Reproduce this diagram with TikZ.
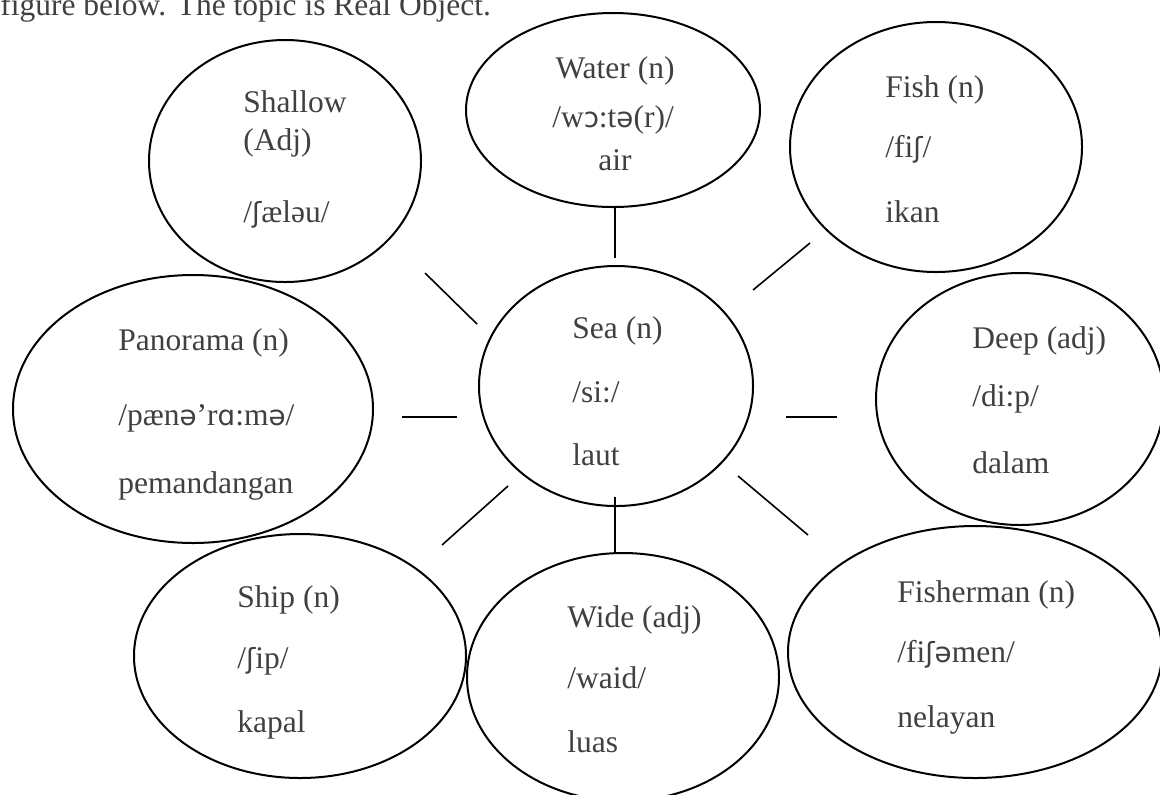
\documentclass[tikz,border=0pt]{standalone}
\usepackage{fontspec}
\setmainfont{Liberation Serif}
\newfontfamily\ipafont{DejaVu Sans}[Scale=0.88]
\usepackage{tikz}
\usetikzlibrary{shapes.geometric}
\usepackage{xcolor}
\definecolor{InkBlack}{RGB}{0, 0, 0}
\definecolor{InkGray}{RGB}{64, 64, 64}
\colorlet{BubbleStroke}{InkBlack}
\colorlet{LinkStroke}{InkBlack}
\colorlet{WordText}{InkGray}
\newcommand{\wordfont}{\fontsize{15.75pt}{18pt}\selectfont}
\newcommand{\ipa}[1]{{\ipafont #1}}
\tikzset{
    % Word bubble (the ellipses)
    bubble/.style={
        draw=BubbleStroke,
        ellipse,
        line width=1pt,
        inner sep=0pt
    },
    % One text line inside a bubble
    wordline/.style={
        anchor=base west,
        text=WordText,
        font=\wordfont,
        inner sep=0pt
    },
    % Centred text line
    wordmid/.style={
        wordline,
        anchor=base
    },
    % Short stroke between bubbles
    link/.style={
        draw=LinkStroke,
        line width=0.8pt
    }
}

\begin{document}
\begin{tikzpicture}[x=0.5pt, y=-0.5pt]

    \useasboundingbox (0,0) rectangle (1160,794);

    % Caption line (cut at the top)
    \node[wordline] (caption) at (0,15) {figure below. The topic is Real Object.};

    % ==========================================
    % BUBBLES
    % ==========================================
    \foreach \n/\x/\y/\w/\h in {
        shallow/285/161/136/121,
        water/613/110/147/97,
        fish/936/147/146/125,
        panorama/193/409/180/134,
        sea/616/386/137/120,
        deep/1020/399/144/126,
        ship/300/656/166/122,
        wide/623/677/156/124,
        fisherman/975/652/187/126} {
        \node[bubble, minimum width=\w pt, minimum height=\h pt] (\n) at (\x,\y) {};
    }

    % ==========================================
    % WORDS
    % ==========================================

    % Sea (centre)
    \node[wordline] (seaA) at (572,338) {Sea (n)};
    \node[wordline] (seaB) at (572,402) {/si:/};
    \node[wordline] (seaC) at (572,465) {laut};

    % Shallow
    \node[wordline] (shallowA) at (243,112) {Shallow};
    \node[wordline] (shallowB) at (243,150) {(Adj)};
    \node[wordline] (shallowC) at (243,222) {/\ipa{ʃ}æləu/};

    % Water
    \node[wordmid] (waterA) at (615,78) {Water (n)};
    \node[wordmid] (waterB) at (613,127) {/w\ipa{ɔ}:t\ipa{ə}(r)/};
    \node[wordmid] (waterC) at (615,170) {air};

    % Fish
    \node[wordline] (fishA) at (885,97) {Fish (n)};
    \node[wordline] (fishB) at (885,157) {/fi\ipa{ʃ}/};
    \node[wordline] (fishC) at (885,222) {ikan};

    % Panorama
    \node[wordline] (panoramaA) at (118,350) {Panorama (n)};
    \node[wordline] (panoramaB) at (118,425) {/pæn\ipa{ə}’r\ipa{ɑ}:m\ipa{ə}/};
    \node[wordline] (panoramaC) at (118,493) {pemandangan};

    % Deep
    \node[wordline] (deepA) at (972,348) {Deep (adj)};
    \node[wordline] (deepB) at (972,406) {/di:p/};
    \node[wordline] (deepC) at (972,473) {dalam};

    % Ship
    \node[wordline] (shipA) at (237,607) {Ship (n)};
    \node[wordline] (shipB) at (237,668) {/\ipa{ʃ}ip/};
    \node[wordline] (shipC) at (237,732) {kapal};

    % Wide
    \node[wordline] (wideA) at (567,627) {Wide (adj)};
    \node[wordline] (wideB) at (567,688) {/waid/};
    \node[wordline] (wideC) at (567,752) {luas};

    % Fisherman
    \node[wordline] (fishermanA) at (897,602) {Fisherman (n)};
    \node[wordline] (fishermanB) at (897,662) {/fi\ipa{ʃə}men/};
    \node[wordline] (fishermanC) at (897,727) {nelayan};

    % ==========================================
    % LINKS (free strokes round the centre)
    % ==========================================
    \foreach \n/\a/\b in {
        water/{615,208}/{615,258},
        shallow/{425,273}/{477,324},
        fish/{810,243}/{753,290},
        panorama/{402,417}/{457,417},
        deep/{786,417}/{837,417},
        ship/{442,545}/{508,486},
        fisherman/{808,535}/{738,476},
        wide/{615,553}/{615,497}} {
        \draw[link] (\a) coordinate (\n-out) -- (\b) coordinate (\n-in);
    }

\end{tikzpicture}
\end{document}
